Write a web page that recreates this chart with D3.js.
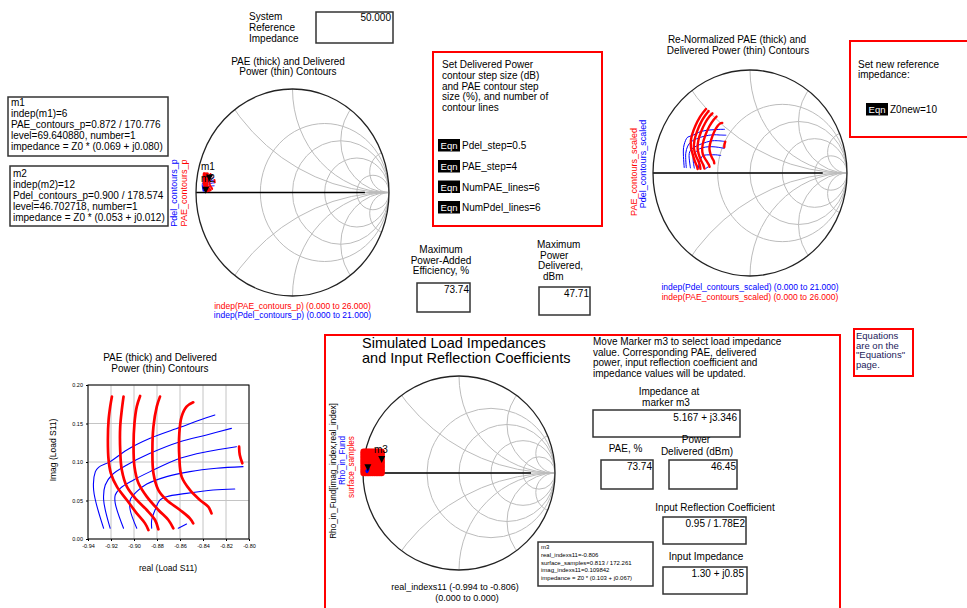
<!DOCTYPE html>
<html>
<head>
<meta charset="utf-8">
<script src="https://cdn.jsdelivr.net/npm/d3@7"></script>
<style>
  body { margin: 0; background: #fff; }
  svg text { font-family: "Liberation Sans", Arial, sans-serif; }
</style>
</head>
<body>
<svg id="page" width="967" height="608"></svg>
<script>
// Impédances de référence
const z0 = 50;
const z0new = 10;

// Contours PAE (épais) : [réel, imag] du coefficient de réflexion de charge
const paeContours = [
    [[-0.9192, 0.1849], [-0.9207, 0.1719], [-0.9221, 0.1546], [-0.9227, 0.1286], [-0.9221, 0.1026], [-0.9201, 0.0853], [-0.9149, 0.0680], [-0.9062, 0.0506], [-0.8976, 0.0333], [-0.8904, 0.0203], [-0.8875, 0.0117]],
    [[-0.9091, 0.1849], [-0.9106, 0.1676], [-0.9120, 0.1459], [-0.9120, 0.1156], [-0.9106, 0.0896], [-0.9062, 0.0680], [-0.8976, 0.0507], [-0.8889, 0.0377], [-0.8817, 0.0247], [-0.8788, 0.0126]],
    [[-0.8947, 0.1858], [-0.8976, 0.1719], [-0.8996, 0.1502], [-0.9004, 0.1199], [-0.8996, 0.0940], [-0.8961, 0.0723], [-0.8889, 0.0550], [-0.8788, 0.0377], [-0.8701, 0.0247], [-0.8658, 0.0139]],
    [[-0.8774, 0.1849], [-0.8802, 0.1719], [-0.8831, 0.1459], [-0.8840, 0.1156], [-0.8831, 0.0853], [-0.8788, 0.0636], [-0.8716, 0.0507], [-0.8600, 0.0377], [-0.8514, 0.0268], [-0.8485, 0.0204]],
    [[-0.8485, 0.1775], [-0.8543, 0.1719], [-0.8586, 0.1589], [-0.8606, 0.1373], [-0.8606, 0.1070], [-0.8586, 0.0810], [-0.8514, 0.0637], [-0.8427, 0.0507], [-0.8355, 0.0420], [-0.8326, 0.0333]],
    [[-0.8086, 0.1199], [-0.8080, 0.1091], [-0.8058, 0.0983]]
];

// Contours de puissance délivrée (fins)
const pdelContours = [
    [[-0.9264, 0.0139], [-0.9351, 0.0637], [-0.9336, 0.0875], [-0.9308, 0.0931], [-0.9207, 0.1005], [-0.9062, 0.1156], [-0.8860, 0.1307], [-0.8600, 0.1450], [-0.8427, 0.1546], [-0.8297, 0.1611]],
    [[-0.9207, 0.0139], [-0.9264, 0.0507], [-0.9250, 0.0701], [-0.9192, 0.0831], [-0.9062, 0.0961], [-0.8860, 0.1113], [-0.8600, 0.1264], [-0.8369, 0.1351], [-0.8153, 0.1437]],
    [[-0.9091, 0.0139], [-0.9163, 0.0463], [-0.9163, 0.0571], [-0.9120, 0.0658], [-0.9004, 0.0766], [-0.8860, 0.0875], [-0.8600, 0.1048], [-0.8369, 0.1134], [-0.8110, 0.1199]],
    [[-0.8976, 0.0139], [-0.9033, 0.0377], [-0.9033, 0.0507], [-0.8976, 0.0615], [-0.8889, 0.0714], [-0.8716, 0.0810], [-0.8514, 0.0875], [-0.8283, 0.0918], [-0.8052, 0.0940]],
    [[-0.8846, 0.0139], [-0.8846, 0.0247], [-0.8817, 0.0377], [-0.8773, 0.0507], [-0.8716, 0.0550], [-0.8543, 0.0593], [-0.8312, 0.0637], [-0.8124, 0.0650]],
    [[-0.8615, 0.0139], [-0.8543, 0.0195]]
];

// Balayage de l'échantillonnage de surface
const realIndex = [-0.994, -0.975, -0.956, -0.938, -0.919, -0.900, -0.881, -0.862, -0.844, -0.825, -0.806];
const imagIndex = [0.000, 0.022, 0.044, 0.066, 0.088, 0.110, 0.132, 0.154, 0.176, 0.198, 0.220];

// Rho_in_Fund (coefficient de réflexion d'entrée)
const rhoInFund = [[-0.962, 0.021], [-0.955, 0.030], [-0.949, 0.033], [-0.944, 0.040], [-0.958, 0.012], [-0.951, 0.024]];

// Marqueurs (module / angle en degrés)
const markerM1 = { mag: 0.872, ang: 170.776 };
const markerM2 = { mag: 0.900, ang: 178.574 };
const markerM3 = { mag: 0.813, ang: 172.261 };
const rhoM3 = { mag: 0.95, ang: 178 };

// Graduations du graphique rectangulaire
const xTicks = [-0.94, -0.92, -0.90, -0.88, -0.86, -0.84, -0.82, -0.80];
const yTicks = [0.00, 0.05, 0.10, 0.15, 0.20];

// Grille de l'abaque de Smith
const smithR = [0.5, 1, 2, 5];
const smithX = [0.5, 1, 2, 5, -0.5, -1, -2, -5];

const RED = '#ff0000';
const BLUE = '#0000ff';

const svg = d3.select('#page');

function polar(m) {
    const a = m.ang * Math.PI / 180;
    return [m.mag * Math.cos(a), m.mag * Math.sin(a)];
}

// Re-normalisation d'un coefficient de réflexion de z0 vers z0new
function renorm(g) {
    const a = g[0], b = g[1];
    const den = (1 - a) * (1 - a) + b * b;
    const zr = (1 - a * a - b * b) / den * z0 / z0new;
    const zi = (2 * b) / den * z0 / z0new;
    const nr = zr - 1, dr = zr + 1;
    const d = dr * dr + zi * zi;
    return [(nr * dr + zi * zi) / d, (zi * dr - nr * zi) / d];
}

function txt(x, y, s, o) {
    o = o || {};
    return svg.append('text')
        .attr('x', x).attr('y', y)
        .attr('font-size', o.size || 10)
        .attr('fill', o.fill || '#000')
        .attr('text-anchor', o.anchor || 'start')
        .text(s);
}

function txtV(x, y, s, o) {
    o = o || {};
    return svg.append('text')
        .attr('transform', `translate(${x},${y}) rotate(-90)`)
        .attr('font-size', o.size || 9)
        .attr('fill', o.fill || '#000')
        .attr('text-anchor', 'middle')
        .text(s);
}

function box(x, y, w, h, color, sw) {
    svg.append('rect')
        .attr('x', x).attr('y', y).attr('width', w).attr('height', h)
        .attr('fill', 'none')
        .attr('stroke', color || '#333')
        .attr('stroke-width', sw || 1.5);
}

function eqn(x, y, label) {
    svg.append('rect').attr('x', x).attr('y', y).attr('width', 22).attr('height', 12.5).attr('fill', '#000');
    txt(x + 11, y + 10, 'Eqn', { size: 9.5, fill: '#fff', anchor: 'middle' });
    txt(x + 24, y + 10, label, { size: 10 });
}

function marker(x, y) {
    svg.append('path')
        .attr('d', `M${x - 3.5},${y - 3.5}L${x + 3.5},${y - 3.5}L${x},${y + 3.5}Z`)
        .attr('fill', '#000');
}

// Abaque de Smith (ellipse un peu plus haute que large, comme dans ADS)
function drawSmith(id, cx, cy, rx, ry) {
    const x = d3.scaleLinear().domain([-1, 1]).range([cx - rx, cx + rx]);
    const y = d3.scaleLinear().domain([-1, 1]).range([cy + ry, cy - ry]);

    svg.append('clipPath').attr('id', id)
        .append('ellipse').attr('cx', cx).attr('cy', cy).attr('rx', rx).attr('ry', ry);

    const grid = svg.append('g').attr('clip-path', `url(#${id})`)
        .attr('fill', 'none').attr('stroke', '#bcbcbc').attr('stroke-width', 1);

    grid.selectAll('.r').data(smithR).enter().append('ellipse')
        .attr('cx', r => x(r / (1 + r)))
        .attr('cy', y(0))
        .attr('rx', r => rx / (1 + r))
        .attr('ry', r => ry / (1 + r));

    grid.selectAll('.x').data(smithX).enter().append('ellipse')
        .attr('cx', x(1))
        .attr('cy', v => y(1 / v))
        .attr('rx', v => rx / Math.abs(v))
        .attr('ry', v => ry / Math.abs(v));

    grid.append('line').attr('x1', x(-1)).attr('x2', x(1)).attr('y1', y(0)).attr('y2', y(0));

    svg.append('line').attr('x1', x(-1)).attr('x2', x(0.75)).attr('y1', y(0)).attr('y2', y(0))
        .attr('stroke', '#000').attr('stroke-width', 1.3);

    svg.append('ellipse').attr('cx', cx).attr('cy', cy).attr('rx', rx).attr('ry', ry)
        .attr('fill', 'none').attr('stroke', '#222').attr('stroke-width', 1.3);

    return { x: x, y: y };
}

function drawContours(sc, lines, color, width, tf) {
    const line = d3.line()
        .x(d => sc.x((tf ? tf(d) : d)[0]))
        .y(d => sc.y((tf ? tf(d) : d)[1]))
        .curve(d3.curveCatmullRom);
    svg.append('g').selectAll('path').data(lines).enter().append('path')
        .attr('d', line)
        .attr('fill', 'none')
        .attr('stroke', color)
        .attr('stroke-width', width)
        .attr('stroke-linejoin', 'round')
        .attr('stroke-linecap', 'round');
}

// ---------------- Impédance de référence ----------------
txt(249, 20, 'System');
txt(249, 31, 'Reference');
txt(249, 42, 'Impedance');
box(316, 12, 77, 31);
txt(391, 21, '50.000', { anchor: 'end' });

// ---------------- Abaque haut gauche ----------------
txt(288, 64.5, 'PAE (thick) and Delivered', { anchor: 'middle' });
txt(288, 75, 'Power (thin) Contours', { anchor: 'middle' });
const tl = drawSmith('clipTL', 292.5, 192.5, 96.5, 103.5);
drawContours(tl, pdelContours, BLUE, 1);
drawContours(tl, paeContours, RED, 2);
const m1 = polar(markerM1), m2 = polar(markerM2);
marker(tl.x(m1[0]), tl.y(m1[1]));
marker(tl.x(m2[0]), tl.y(m2[1]));
txt(201, 170, 'm1');
txt(201, 182, 'm2');
txtV(176.5, 193, 'Pdel_contours_p', { fill: BLUE });
txtV(186.5, 193, 'PAE_contours_p', { fill: RED });
txt(292.5, 309, 'indep(PAE_contours_p) (0.000 to 26.000)', { size: 8.5, fill: RED, anchor: 'middle' });
txt(292.5, 317.5, 'indep(Pdel_contours_p) (0.000 to 21.000)', { size: 8.5, fill: BLUE, anchor: 'middle' });

// Boîtes des marqueurs m1 et m2
box(8, 97, 160, 59);
txt(11, 106, 'm1');
txt(11, 117, 'indep(m1)=6');
txt(11, 128, 'PAE_contours_p=0.872 / 170.776');
txt(11, 139, 'level=69.640880, number=1');
txt(11, 150, 'impedance = Z0 * (0.069 + j0.080)');
box(10, 166, 158, 60);
txt(13, 176.5, 'm2');
txt(13, 187.5, 'indep(m2)=12');
txt(13, 198.5, 'Pdel_contours_p=0.900 / 178.574');
txt(13, 209.5, 'level=46.702718, number=1');
txt(13, 220.5, 'impedance = Z0 * (0.053 + j0.012)');

// ---------------- Boîte des pas de contour ----------------
box(433, 52, 169, 174, RED, 2);
['Set Delivered Power', 'contour step size (dB)', 'and PAE contour step', 'size (%), and number of', 'contour lines']
    .forEach((s, i) => txt(442, 68 + i * 10.8, s));
eqn(438, 139, 'Pdel_step=0.5');
eqn(438, 160, 'PAE_step=4');
eqn(438, 180.5, 'NumPAE_lines=6');
eqn(438, 201, 'NumPdel_lines=6');

// ---------------- Maximums ----------------
txt(441, 253, 'Maximum', { anchor: 'middle' });
txt(441, 264, 'Power-Added', { anchor: 'middle' });
txt(441, 274, 'Efficiency, %', { anchor: 'middle' });
box(417, 283, 53, 29);
txt(469, 293, '73.74', { anchor: 'end' });

txt(537, 248, 'Maximum');
txt(540, 258.5, 'Power');
txt(538, 269, 'Delivered,');
txt(543, 280, 'dBm');
box(539, 287, 51, 28);
txt(589, 296.5, '47.71', { anchor: 'end' });

// ---------------- Abaque re-normalisé ----------------
txt(737, 43, 'Re-Normalized PAE (thick) and', { anchor: 'middle' });
txt(738, 54, 'Delivered Power (thin) Contours', { anchor: 'middle' });
const tr = drawSmith('clipTR', 750, 173, 97, 103);
drawContours(tr, pdelContours, BLUE, 1, renorm);
drawContours(tr, paeContours, RED, 2.4, renorm);
txtV(636.5, 172, 'PAE_contours_scaled', { fill: RED });
txtV(645.5, 164, 'Pdel_contours_scaled', { fill: BLUE });
txt(750, 290, 'indep(Pdel_contours_scaled) (0.000 to 21.000)', { size: 8.5, fill: BLUE, anchor: 'middle' });
txt(750, 300, 'indep(PAE_contours_scaled) (0.000 to 26.000)', { size: 8.5, fill: RED, anchor: 'middle' });

box(850, 41, 125, 96, RED, 2);
txt(858, 68, 'Set new reference');
txt(858, 78, 'impedance:');
eqn(866, 103, 'Z0new=10');

// ---------------- Graphique rectangulaire ----------------
const bx = d3.scaleLinear().domain([-0.94, -0.80]).range([88, 249]);
const by = d3.scaleLinear().domain([0, 0.20]).range([539, 385]);

txt(160, 361, 'PAE (thick) and Delivered', { anchor: 'middle' });
txt(160, 372, 'Power (thin) Contours', { anchor: 'middle' });

const bl = svg.append('g');
bl.append('g').selectAll('line').data(xTicks).enter().append('line')
    .attr('x1', d => bx(d)).attr('x2', d => bx(d)).attr('y1', by(0)).attr('y2', by(0.20))
    .attr('stroke', '#c4c4c4');
bl.append('g').selectAll('line').data(yTicks).enter().append('line')
    .attr('y1', d => by(d)).attr('y2', d => by(d)).attr('x1', bx(-0.94)).attr('x2', bx(-0.80))
    .attr('stroke', '#c4c4c4');

const xAxis = bl.append('g').attr('transform', `translate(0,${by(0)})`)
    .call(d3.axisBottom(bx).tickValues(xTicks).tickSize(2).tickFormat(d => d.toFixed(2)));
const yAxis = bl.append('g').attr('transform', `translate(${bx(-0.94)},0)`)
    .call(d3.axisLeft(by).tickValues(yTicks).tickSize(2).tickFormat(d => d.toFixed(2)));
[xAxis, yAxis].forEach(a => {
    a.select('.domain').remove();
    a.selectAll('text').attr('font-size', 5.5).attr('font-family', '"Liberation Sans", Arial, sans-serif');
});
bl.append('rect').attr('x', bx(-0.94)).attr('y', by(0.20))
    .attr('width', bx(-0.80) - bx(-0.94)).attr('height', by(0) - by(0.20))
    .attr('fill', 'none').attr('stroke', '#000').attr('stroke-width', 1);

const rect = { x: bx, y: by };
drawContours(rect, pdelContours, BLUE, 1.1);
drawContours(rect, paeContours, RED, 2.7);

txtV(56, 450, 'Imag (Load S11)', { size: 8.5 });
txt(168, 571, 'real (Load S11)', { size: 8.5, anchor: 'middle' });

// ---------------- Impédances simulées ----------------
box(325, 335, 515, 290, RED, 2);
txt(362, 348, 'Simulated Load Impedances', { size: 14.5 });
txt(362, 363, 'and Input Reflection Coefficients', { size: 14.5 });

const bs = drawSmith('clipBS', 459, 473, 96, 97);
const samples = [];
imagIndex.forEach(im => realIndex.forEach(re => samples.push([re, im])));
svg.append('g').selectAll('circle').data(samples).enter().append('circle')
    .attr('cx', d => bs.x(d[0])).attr('cy', d => bs.y(d[1])).attr('r', 3.2)
    .attr('fill', RED);
svg.append('g').selectAll('circle').data(rhoInFund).enter().append('circle')
    .attr('cx', d => bs.x(d[0])).attr('cy', d => bs.y(d[1])).attr('r', 1.3)
    .attr('fill', BLUE);
const m3 = polar(markerM3), rm3 = polar(rhoM3);
marker(bs.x(m3[0]), bs.y(m3[1]) - 3);
marker(bs.x(rm3[0]), bs.y(rm3[1]) - 2);
txt(374, 453, 'm3');

txtV(336, 471, 'Rho_in_Fund[imag_index,real_index]', { size: 8.2 });
txtV(345, 460.5, 'Rho_in_Fund', { size: 8.2, fill: BLUE });
txtV(354, 467, 'surface_samples', { size: 8.2, fill: RED });
txt(455, 590, 'real_indexs11 (-0.994 to -0.806)', { size: 9, anchor: 'middle' });
txt(467, 600.5, '(0.000 to 0.000)', { size: 9, anchor: 'middle' });

box(538, 542, 115, 44);
['m3', 'real_indexs11=-0.806', 'surface_samples=0.813 / 172.261', 'imag_indexs11=0.109842', 'impedance = Z0 * (0.103 + j0.067)']
    .forEach((s, i) => txt(541, 549 + i * 7.8, s, { size: 6 }));

// ---------------- Valeurs au marqueur m3 ----------------
['Move Marker m3 to select load impedance', 'value.  Corresponding PAE, delivered',
 'power, input reflection coefficient and', 'impedance values will be updated.']
    .forEach((s, i) => txt(593, 345 + i * 10.7, s));
txt(669, 395, 'Impedance at', { anchor: 'middle' });
txt(666, 405.5, 'marker m3', { anchor: 'middle' });
box(593, 410, 147, 27);
txt(737, 420.5, '5.167 + j3.346', { anchor: 'end' });

txt(625.5, 452, 'PAE, %', { anchor: 'middle' });
txt(696, 443, 'Power', { anchor: 'middle' });
txt(697, 455, 'Delivered (dBm)', { anchor: 'middle' });
box(601, 460, 52, 29);
txt(652, 469.5, '73.74', { anchor: 'end' });
box(669, 460, 68, 29);
txt(736, 469.5, '46.45', { anchor: 'end' });

txt(715, 510.5, 'Input Reflection Coefficient', { anchor: 'middle' });
box(663, 517, 83, 27);
txt(745, 527, '0.95 / 1.78E2', { anchor: 'end' });
txt(706, 560, 'Input Impedance', { anchor: 'middle' });
box(663, 567, 84, 27);
txt(744, 577, '1.30 + j0.85', { anchor: 'end' });

// ---------------- Renvoi vers la page Equations ----------------
box(854, 329, 59, 47, RED, 2);
['Equations', 'are on the', '"Equations"', 'page.']
    .forEach((s, i) => txt(856, 339 + i * 9.7, s, { size: 9.5, fill: '#1c1c5a' }));
</script>
</body>
</html>
